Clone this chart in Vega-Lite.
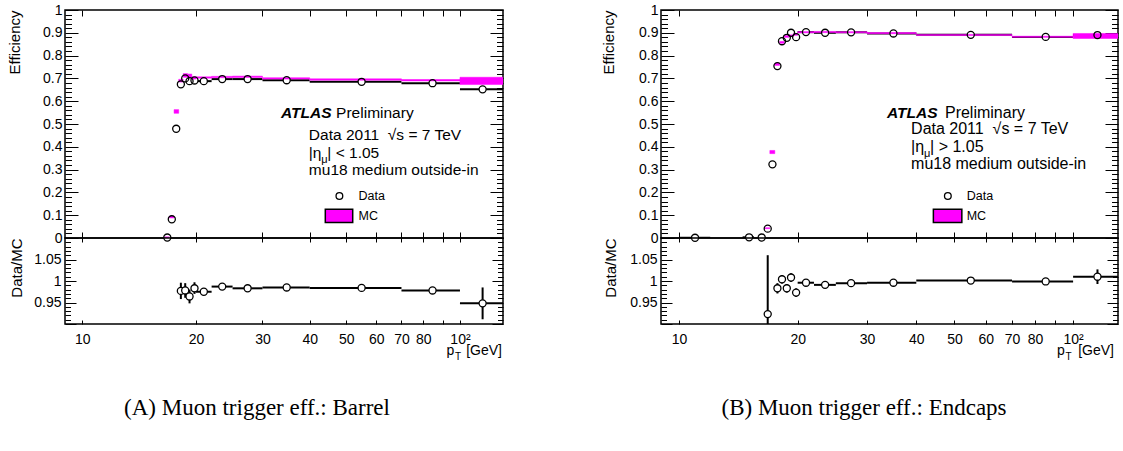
{
"$schema": "https://vega.github.io/schema/vega-lite/v6.json",
"background": "white",
"padding": {"left": 6, "top": 2, "right": 5, "bottom": 5},
"config": {
  "view": {"stroke": "black", "strokeWidth": 1.5},
  "axis": {"domain": false, "grid": false, "tickColor": "black", "tickWidth": 1, "labelColor": "black", "titleColor": "black", "labelFont": "Liberation Sans", "titleFont": "Liberation Sans", "labelFontSize": 14, "titleFontSize": 15, "titleFontWeight": "normal", "labelOverlap": false, "labelFlush": false, "labelBound": false},
  "text": {"font": "Liberation Sans", "color": "black"},
  "title": {"font": "Liberation Serif", "fontSize": 23, "fontWeight": "normal", "color": "black"}
},
"datasets": {
  "effL": [
    {"pt": 16.79, "lo": 16.5, "hi": 17, "eff": 0.002, "effLo": 0.0, "effHi": 0.004, "mcLo": 0.001, "mcHi": 0.005},
    {"pt": 17.26, "lo": 17, "hi": 17.5, "eff": 0.082, "effLo": 0.076, "effHi": 0.088, "mcLo": 0.088, "mcHi": 0.096},
    {"pt": 17.73, "lo": 17.5, "hi": 18, "eff": 0.479, "effLo": 0.469, "effHi": 0.489, "mcLo": 0.547, "mcHi": 0.563},
    {"pt": 18.24, "lo": 18, "hi": 18.5, "eff": 0.674, "effLo": 0.665, "effHi": 0.683, "mcLo": 0.684, "mcHi": 0.696},
    {"pt": 18.73, "lo": 18.5, "hi": 19, "eff": 0.700, "effLo": 0.691, "effHi": 0.709, "mcLo": 0.705, "mcHi": 0.721},
    {"pt": 19.23, "lo": 19, "hi": 19.5, "eff": 0.688, "effLo": 0.679, "effHi": 0.697, "mcLo": 0.703, "mcHi": 0.719},
    {"pt": 19.82, "lo": 19.5, "hi": 20, "eff": 0.691, "effLo": 0.683, "effHi": 0.699, "mcLo": 0.697, "mcHi": 0.707},
    {"pt": 20.98, "lo": 20, "hi": 22, "eff": 0.688, "effLo": 0.684, "effHi": 0.692, "mcLo": 0.701, "mcHi": 0.707},
    {"pt": 23.47, "lo": 22, "hi": 25, "eff": 0.697, "effLo": 0.694, "effHi": 0.700, "mcLo": 0.703, "mcHi": 0.709},
    {"pt": 27.4, "lo": 25, "hi": 30, "eff": 0.697, "effLo": 0.695, "effHi": 0.699, "mcLo": 0.704, "mcHi": 0.710},
    {"pt": 34.77, "lo": 30, "hi": 40, "eff": 0.692, "effLo": 0.690, "effHi": 0.694, "mcLo": 0.697, "mcHi": 0.703},
    {"pt": 54.9, "lo": 40, "hi": 70, "eff": 0.685, "effLo": 0.683, "effHi": 0.687, "mcLo": 0.692, "mcHi": 0.698},
    {"pt": 84.6, "lo": 70, "hi": 100, "eff": 0.679, "effLo": 0.676, "effHi": 0.682, "mcLo": 0.689, "mcHi": 0.695},
    {"pt": 114.8, "lo": 100, "hi": 150, "eff": 0.652, "effLo": 0.640, "effHi": 0.664, "mcLo": 0.673, "mcHi": 0.705}
  ],
  "ratioL": [
    {"pt": 18.24, "lo": 18, "hi": 18.5, "r": 0.977, "rLo": 0.958, "rHi": 0.996},
    {"pt": 18.73, "lo": 18.5, "hi": 19, "r": 0.978, "rLo": 0.961, "rHi": 0.995},
    {"pt": 19.23, "lo": 19, "hi": 19.5, "r": 0.964, "rLo": 0.948, "rHi": 0.980},
    {"pt": 19.82, "lo": 19.5, "hi": 20, "r": 0.983, "rLo": 0.970, "rHi": 0.997},
    {"pt": 20.98, "lo": 20, "hi": 22, "r": 0.975, "rLo": 0.970, "rHi": 0.980},
    {"pt": 23.47, "lo": 22, "hi": 25, "r": 0.987, "rLo": 0.983, "rHi": 0.991},
    {"pt": 27.4, "lo": 25, "hi": 30, "r": 0.983, "rLo": 0.980, "rHi": 0.986},
    {"pt": 34.77, "lo": 30, "hi": 40, "r": 0.985, "rLo": 0.982, "rHi": 0.988},
    {"pt": 54.9, "lo": 40, "hi": 70, "r": 0.984, "rLo": 0.981, "rHi": 0.987},
    {"pt": 84.6, "lo": 70, "hi": 100, "r": 0.978, "rLo": 0.974, "rHi": 0.982},
    {"pt": 114.8, "lo": 100, "hi": 150, "r": 0.948, "rLo": 0.911, "rHi": 0.985}
  ],
  "effR": [
    {"pt": 10.98, "lo": 10, "hi": 12, "eff": 0.001, "effLo": 0.0, "effHi": 0.002, "mcLo": null, "mcHi": null},
    {"pt": 15.06, "lo": 14.5, "hi": 15.5, "eff": 0.003, "effLo": 0.0, "effHi": 0.006, "mcLo": null, "mcHi": null},
    {"pt": 16.21, "lo": 16, "hi": 16.5, "eff": 0.002, "effLo": 0.0, "effHi": 0.004, "mcLo": null, "mcHi": null},
    {"pt": 16.79, "lo": 16.5, "hi": 17, "eff": 0.041, "effLo": 0.036, "effHi": 0.046, "mcLo": 0.041, "mcHi": 0.045},
    {"pt": 17.26, "lo": 17, "hi": 17.5, "eff": 0.323, "effLo": 0.313, "effHi": 0.333, "mcLo": 0.370, "mcHi": 0.384},
    {"pt": 17.77, "lo": 17.5, "hi": 18, "eff": 0.754, "effLo": 0.745, "effHi": 0.763, "mcLo": 0.757, "mcHi": 0.767},
    {"pt": 18.25, "lo": 18, "hi": 18.5, "eff": 0.863, "effLo": 0.856, "effHi": 0.870, "mcLo": 0.854, "mcHi": 0.862},
    {"pt": 18.77, "lo": 18.5, "hi": 19, "eff": 0.878, "effLo": 0.871, "effHi": 0.885, "mcLo": 0.880, "mcHi": 0.888},
    {"pt": 19.24, "lo": 19, "hi": 19.5, "eff": 0.900, "effLo": 0.893, "effHi": 0.907, "mcLo": 0.883, "mcHi": 0.891},
    {"pt": 19.82, "lo": 19.5, "hi": 20, "eff": 0.881, "effLo": 0.874, "effHi": 0.888, "mcLo": 0.889, "mcHi": 0.897},
    {"pt": 21.0, "lo": 20, "hi": 22, "eff": 0.903, "effLo": 0.900, "effHi": 0.906, "mcLo": 0.900, "mcHi": 0.905},
    {"pt": 23.48, "lo": 22, "hi": 25, "eff": 0.900, "effLo": 0.898, "effHi": 0.902, "mcLo": 0.901, "mcHi": 0.906},
    {"pt": 27.33, "lo": 25, "hi": 30, "eff": 0.902, "effLo": 0.900, "effHi": 0.904, "mcLo": 0.900, "mcHi": 0.905},
    {"pt": 35.0, "lo": 30, "hi": 40, "eff": 0.897, "effLo": 0.895, "effHi": 0.899, "mcLo": 0.896, "mcHi": 0.901},
    {"pt": 55.0, "lo": 40, "hi": 70, "eff": 0.891, "effLo": 0.889, "effHi": 0.893, "mcLo": 0.888, "mcHi": 0.893},
    {"pt": 85.2, "lo": 70, "hi": 100, "eff": 0.882, "effLo": 0.879, "effHi": 0.885, "mcLo": 0.880, "mcHi": 0.885},
    {"pt": 115.3, "lo": 100, "hi": 150, "eff": 0.890, "effLo": 0.882, "effHi": 0.898, "mcLo": 0.875, "mcHi": 0.897}
  ],
  "ratioR": [
    {"pt": 16.79, "lo": 16.5, "hi": 17, "r": 0.923, "rLo": 0.786, "rHi": 1.060},
    {"pt": 17.77, "lo": 17.5, "hi": 18, "r": 0.983, "rLo": 0.971, "rHi": 0.995},
    {"pt": 18.25, "lo": 18, "hi": 18.5, "r": 1.004, "rLo": 0.994, "rHi": 1.014},
    {"pt": 18.77, "lo": 18.5, "hi": 19, "r": 0.983, "rLo": 0.973, "rHi": 0.993},
    {"pt": 19.24, "lo": 19, "hi": 19.5, "r": 1.008, "rLo": 0.998, "rHi": 1.018},
    {"pt": 19.82, "lo": 19.5, "hi": 20, "r": 0.973, "rLo": 0.963, "rHi": 0.983},
    {"pt": 21.0, "lo": 20, "hi": 22, "r": 0.996, "rLo": 0.992, "rHi": 1.000},
    {"pt": 23.48, "lo": 22, "hi": 25, "r": 0.991, "rLo": 0.988, "rHi": 0.994},
    {"pt": 27.33, "lo": 25, "hi": 30, "r": 0.995, "rLo": 0.992, "rHi": 0.998},
    {"pt": 35.0, "lo": 30, "hi": 40, "r": 0.996, "rLo": 0.993, "rHi": 0.999},
    {"pt": 55.0, "lo": 40, "hi": 70, "r": 1.001, "rLo": 0.999, "rHi": 1.003},
    {"pt": 85.2, "lo": 70, "hi": 100, "r": 0.999, "rLo": 0.996, "rHi": 1.002},
    {"pt": 115.3, "lo": 100, "hi": 150, "r": 1.010, "rLo": 0.993, "rHi": 1.027}
  ],
  "notesL": [
    {"role": "atlas", "pt": 33.6, "eff": 0.528, "text": "ATLAS"},
    {"role": "main", "pt": 47.0, "eff": 0.528, "text": "Preliminary"},
    {"role": "main", "pt": 39.8, "eff": 0.430, "text": "Data 2011 \u00a0√s = 7 TeV"},
    {"role": "main", "pt": 39.8, "eff": 0.353, "text": "|η"},
    {"role": "sub", "pt": 39.8, "eff": 0.353, "text": "μ"},
    {"role": "post", "pt": 39.8, "eff": 0.353, "text": "| < 1.05"},
    {"role": "main", "pt": 39.8, "eff": 0.276, "text": "mu18 medium outside-in"},
    {"role": "legendText", "pt": 53.9, "eff": 0.184, "text": "Data"},
    {"role": "legendText", "pt": 53.9, "eff": 0.097, "text": "MC"},
    {"role": "legendCircle", "pt": 47.95, "eff": 0.184},
    {"role": "legendBox", "pt": 44.0, "pt2": 52.0, "eff": 0.0675, "eff2": 0.126}
  ],
  "notesR": [
    {"role": "atlas", "pt": 33.7, "eff": 0.528, "text": "ATLAS"},
    {"role": "main", "pt": 47.3, "eff": 0.528, "text": "Preliminary"},
    {"role": "main", "pt": 38.8, "eff": 0.456, "text": "Data 2011 \u00a0√s = 7 TeV"},
    {"role": "main", "pt": 38.8, "eff": 0.379, "text": "|η"},
    {"role": "sub", "pt": 38.8, "eff": 0.379, "text": "μ"},
    {"role": "post", "pt": 38.8, "eff": 0.379, "text": "| > 1.05"},
    {"role": "main", "pt": 38.8, "eff": 0.303, "text": "mu18 medium outside-in"},
    {"role": "legendText", "pt": 53.7, "eff": 0.184, "text": "Data"},
    {"role": "legendText", "pt": 53.7, "eff": 0.097, "text": "MC"},
    {"role": "legendCircle", "pt": 48.1, "eff": 0.184},
    {"role": "legendBox", "pt": 44.2, "pt2": 52.2, "eff": 0.0675, "eff2": 0.126}
  ],
  "ptTitle": [{"pt": 130, "r": 0.9}]
},
"hconcat": [
  {
    "title": {"text": "(A) Muon trigger eff.: Barrel", "orient": "bottom", "anchor": "middle", "offset": 34, "dx": 1.5},
    "spacing": 0, "bounds": "flush",
    "vconcat": [
      {
        "width": 438, "height": 228,
        "resolve": {"axis": {"x": "independent", "y": "independent"}},
        "layer": [
          {"data": {"name": "effL"}, "mark": {"type": "rule", "clip": true, "strokeWidth": 2, "color": "black"},
           "encoding": {
             "x": {"field": "lo", "type": "quantitative", "scale": {"type": "log", "domain": [9, 130], "nice": false}, "axis": {"orient": "bottom", "values": [10,20,30,40,50,60,70,80,90,100], "labels": false, "tickSize": -6, "title": null}},
             "x2": {"field": "hi"},
             "y": {"field": "eff", "type": "quantitative", "scale": {"domain": [0, 1], "nice": false, "zero": false}, "axis": {"orient": "left", "values": [0,0.1,0.2,0.3,0.4,0.5,0.6,0.7,0.8,0.9,1], "tickSize": -13, "labelPadding": 16, "labelExpr": "datum.value == 0 ? '0' : datum.value > 0.99 ? '1' : format(datum.value, '.1f')", "title": "Efficiency", "titleAnchor": "end", "titlePadding": 20}}
           }},
          {"data": {"name": "effL"}, "mark": {"type": "rule", "strokeWidth": 2, "color": "black"},
           "encoding": {
             "x": {"field": "pt", "type": "quantitative", "scale": {"type": "log", "domain": [9, 130], "nice": false}, "axis": {"orient": "top", "values": [10,20,30,40,50,60,70,80,90,100], "labels": false, "tickSize": -6, "title": null}},
             "y": {"field": "effLo", "type": "quantitative", "scale": {"domain": [0, 1], "nice": false, "zero": false}, "axis": {"orient": "left", "values": [0.02,0.04,0.06,0.08,0.12,0.14,0.16,0.18,0.22,0.24,0.26,0.28,0.32,0.34,0.36,0.38,0.42,0.44,0.46,0.48,0.52,0.54,0.56,0.58,0.62,0.64,0.66,0.68,0.72,0.74,0.76,0.78,0.82,0.84,0.86,0.88,0.92,0.94,0.96,0.98], "tickSize": -6.5, "labels": false, "title": null}},
             "y2": {"field": "effHi"}
           }},
          {"data": {"name": "effL"}, "mark": {"type": "point", "shape": "circle", "filled": true, "color": "white", "opacity": 1, "size": 50},
           "encoding": {
             "x": {"field": "pt", "type": "quantitative", "scale": {"type": "log", "domain": [9, 130], "nice": false}, "axis": null},
             "y": {"field": "eff", "type": "quantitative", "scale": {"domain": [0, 1], "nice": false, "zero": false}, "axis": {"orient": "right", "values": [0,0.1,0.2,0.3,0.4,0.5,0.6,0.7,0.8,0.9,1], "tickSize": -13, "labels": false, "title": null}}
           }},
          {"data": {"name": "effL"}, "mark": {"type": "rect", "clip": true, "color": "#ff00ff", "stroke": "#ff00ff", "strokeWidth": 0.5},
           "encoding": {
             "x": {"field": "lo", "type": "quantitative", "scale": {"type": "log", "domain": [9, 130], "nice": false}, "axis": null},
             "x2": {"field": "hi"},
             "y": {"field": "mcLo", "type": "quantitative", "scale": {"domain": [0, 1], "nice": false, "zero": false}, "axis": {"orient": "right", "values": [0.02,0.04,0.06,0.08,0.12,0.14,0.16,0.18,0.22,0.24,0.26,0.28,0.32,0.34,0.36,0.38,0.42,0.44,0.46,0.48,0.52,0.54,0.56,0.58,0.62,0.64,0.66,0.68,0.72,0.74,0.76,0.78,0.82,0.84,0.86,0.88,0.92,0.94,0.96,0.98], "tickSize": -6.5, "labels": false, "title": null}},
             "y2": {"field": "mcHi"}
           }},
          {"data": {"name": "effL"}, "mark": {"type": "point", "shape": "circle", "filled": false, "stroke": "black", "strokeWidth": 1.3, "opacity": 1, "size": 50},
           "encoding": {
             "x": {"field": "pt", "type": "quantitative", "scale": {"type": "log", "domain": [9, 130], "nice": false}, "axis": null},
             "y": {"field": "eff", "type": "quantitative", "scale": {"domain": [0, 1], "nice": false, "zero": false}, "axis": null}
           }},
          {"data": {"name": "notesL"}, "transform": [{"filter": "datum.role == 'atlas'"}], "mark": {"type": "text", "align": "left", "baseline": "alphabetic", "fontSize": 15.5, "fontWeight": "bold", "fontStyle": "italic"},
           "encoding": {
             "x": {"field": "pt", "type": "quantitative", "scale": {"type": "log", "domain": [9, 130], "nice": false}, "axis": null},
             "y": {"field": "eff", "type": "quantitative", "scale": {"domain": [0, 1], "nice": false, "zero": false}, "axis": null},
             "text": {"field": "text"}
           }},
          {"data": {"name": "notesL"}, "transform": [{"filter": "datum.role == 'main'"}], "mark": {"type": "text", "align": "left", "baseline": "alphabetic", "fontSize": 15.5},
           "encoding": {
             "x": {"field": "pt", "type": "quantitative", "scale": {"type": "log", "domain": [9, 130], "nice": false}, "axis": null},
             "y": {"field": "eff", "type": "quantitative", "scale": {"domain": [0, 1], "nice": false, "zero": false}, "axis": null},
             "text": {"field": "text"}
           }},
          {"data": {"name": "notesL"}, "transform": [{"filter": "datum.role == 'sub'"}], "mark": {"type": "text", "align": "left", "baseline": "alphabetic", "fontSize": 11, "dx": 12.5, "dy": 5},
           "encoding": {
             "x": {"field": "pt", "type": "quantitative", "scale": {"type": "log", "domain": [9, 130], "nice": false}, "axis": null},
             "y": {"field": "eff", "type": "quantitative", "scale": {"domain": [0, 1], "nice": false, "zero": false}, "axis": null},
             "text": {"field": "text"}
           }},
          {"data": {"name": "notesL"}, "transform": [{"filter": "datum.role == 'post'"}], "mark": {"type": "text", "align": "left", "baseline": "alphabetic", "fontSize": 15.5, "dx": 18.5},
           "encoding": {
             "x": {"field": "pt", "type": "quantitative", "scale": {"type": "log", "domain": [9, 130], "nice": false}, "axis": null},
             "y": {"field": "eff", "type": "quantitative", "scale": {"domain": [0, 1], "nice": false, "zero": false}, "axis": null},
             "text": {"field": "text"}
           }},
          {"data": {"name": "notesL"}, "transform": [{"filter": "datum.role == 'legendText'"}], "mark": {"type": "text", "align": "left", "baseline": "middle", "fontSize": 12.5},
           "encoding": {
             "x": {"field": "pt", "type": "quantitative", "scale": {"type": "log", "domain": [9, 130], "nice": false}, "axis": null},
             "y": {"field": "eff", "type": "quantitative", "scale": {"domain": [0, 1], "nice": false, "zero": false}, "axis": null},
             "text": {"field": "text"}
           }},
          {"data": {"name": "notesL"}, "transform": [{"filter": "datum.role == 'legendCircle'"}], "mark": {"type": "point", "shape": "circle", "filled": false, "stroke": "black", "strokeWidth": 1.3, "opacity": 1, "size": 45},
           "encoding": {
             "x": {"field": "pt", "type": "quantitative", "scale": {"type": "log", "domain": [9, 130], "nice": false}, "axis": null},
             "y": {"field": "eff", "type": "quantitative", "scale": {"domain": [0, 1], "nice": false, "zero": false}, "axis": null}
           }},
          {"data": {"name": "notesL"}, "transform": [{"filter": "datum.role == 'legendBox'"}], "mark": {"type": "rect", "color": "#ff00ff", "stroke": "black", "strokeWidth": 1.5},
           "encoding": {
             "x": {"field": "pt", "type": "quantitative", "scale": {"type": "log", "domain": [9, 130], "nice": false}, "axis": null},
             "x2": {"field": "pt2"},
             "y": {"field": "eff", "type": "quantitative", "scale": {"domain": [0, 1], "nice": false, "zero": false}, "axis": null},
             "y2": {"field": "eff2"}
           }}
        ]
      },
      {
        "width": 438, "height": 86,
        "resolve": {"axis": {"x": "independent", "y": "independent"}},
        "layer": [
          {"mark": {"type": "rule", "strokeDash": [1, 2], "strokeWidth": 1, "color": "black"},
           "encoding": {"y": {"datum": 1, "type": "quantitative", "scale": {"domain": [0.9, 1.1], "nice": false, "zero": false}, "axis": null}}},
          {"data": {"name": "ratioL"}, "mark": {"type": "rule", "clip": true, "strokeWidth": 2, "color": "black"},
           "encoding": {
             "x": {"field": "lo", "type": "quantitative", "scale": {"type": "log", "domain": [9, 130], "nice": false}, "axis": {"orient": "bottom", "values": [10,20,30,40,50,60,70,80,90,100], "tickSize": -4, "labelPadding": 12, "labelExpr": "datum.value == 100 ? '10²' : datum.value == 90 ? '' : format(datum.value, 'd')", "title": null}},
             "x2": {"field": "hi"},
             "y": {"field": "r", "type": "quantitative", "scale": {"domain": [0.9, 1.1], "nice": false, "zero": false}, "axis": {"orient": "left", "values": [0.9, 0.95, 1, 1.05, 1.1], "tickSize": -11, "labelPadding": 15, "labelExpr": "abs(datum.value - 0.95) < 0.001 ? '0.95' : abs(datum.value - 1) < 0.001 ? '1' : abs(datum.value - 1.05) < 0.001 ? '1.05' : ''", "title": "Data/MC", "titleAnchor": "end", "titlePadding": 9}}
           }},
          {"data": {"name": "ratioL"}, "mark": {"type": "rule", "clip": true, "strokeWidth": 2, "color": "black"},
           "encoding": {
             "x": {"field": "pt", "type": "quantitative", "scale": {"type": "log", "domain": [9, 130], "nice": false}, "axis": {"orient": "top", "values": [10,20,30,40,50,60,70,80,90,100], "labels": false, "tickSize": -4, "title": null}},
             "y": {"field": "rLo", "type": "quantitative", "scale": {"domain": [0.9, 1.1], "nice": false, "zero": false}, "axis": {"orient": "left", "values": [0.91,0.92,0.93,0.94,0.96,0.97,0.98,0.99,1.01,1.02,1.03,1.04,1.06,1.07,1.08,1.09], "tickSize": -5.5, "labels": false, "title": null}},
             "y2": {"field": "rHi"}
           }},
          {"data": {"name": "ratioL"}, "mark": {"type": "point", "shape": "circle", "filled": true, "fill": "white", "stroke": "black", "strokeWidth": 1.3, "opacity": 1, "size": 50},
           "encoding": {
             "x": {"field": "pt", "type": "quantitative", "scale": {"type": "log", "domain": [9, 130], "nice": false}, "axis": null},
             "y": {"field": "r", "type": "quantitative", "scale": {"domain": [0.9, 1.1], "nice": false, "zero": false}, "axis": {"orient": "right", "values": [0.9, 0.95, 1, 1.05, 1.1], "tickSize": -11, "labels": false, "title": null}}
           }},
          {"data": {"name": "ptTitle"}, "mark": {"type": "text", "align": "right", "baseline": "alphabetic", "fontSize": 14, "dx": -1, "dy": 31},
           "encoding": {
             "x": {"field": "pt", "type": "quantitative", "scale": {"type": "log", "domain": [9, 130], "nice": false}, "axis": null},
             "y": {"field": "r", "type": "quantitative", "scale": {"domain": [0.9, 1.1], "nice": false, "zero": false}, "axis": {"orient": "right", "values": [0.91,0.92,0.93,0.94,0.96,0.97,0.98,0.99,1.01,1.02,1.03,1.04,1.06,1.07,1.08,1.09], "tickSize": -5.5, "labels": false, "title": null}},
             "text": {"value": "[GeV]"}
           }},
          {"data": {"name": "ptTitle"}, "mark": {"type": "text", "align": "center", "baseline": "alphabetic", "fontSize": 14, "dx": -52.5, "dy": 31},
           "encoding": {
             "x": {"field": "pt", "type": "quantitative", "scale": {"type": "log", "domain": [9, 130], "nice": false}, "axis": null},
             "y": {"field": "r", "type": "quantitative", "scale": {"domain": [0.9, 1.1], "nice": false, "zero": false}, "axis": null},
             "text": {"value": "p"}
           }},
          {"data": {"name": "ptTitle"}, "mark": {"type": "text", "align": "center", "baseline": "alphabetic", "fontSize": 10, "dx": -45, "dy": 36},
           "encoding": {
             "x": {"field": "pt", "type": "quantitative", "scale": {"type": "log", "domain": [9, 130], "nice": false}, "axis": null},
             "y": {"field": "r", "type": "quantitative", "scale": {"domain": [0.9, 1.1], "nice": false, "zero": false}, "axis": null},
             "text": {"value": "T"}
           }}
        ]
      }
    ]
  },
  {
    "title": {"text": "(B) Muon trigger eff.: Endcaps", "orient": "bottom", "anchor": "middle", "offset": 34, "dx": 4},
    "spacing": 0, "bounds": "flush",
    "vconcat": [
      {
        "width": 457, "height": 228,
        "resolve": {"axis": {"x": "independent", "y": "independent"}},
        "layer": [
          {"data": {"name": "effR"}, "mark": {"type": "rule", "clip": true, "strokeWidth": 2, "color": "black"},
           "encoding": {
             "x": {"field": "lo", "type": "quantitative", "scale": {"type": "log", "domain": [9, 130], "nice": false}, "axis": {"orient": "bottom", "values": [10,20,30,40,50,60,70,80,90,100], "labels": false, "tickSize": -6, "title": null}},
             "x2": {"field": "hi"},
             "y": {"field": "eff", "type": "quantitative", "scale": {"domain": [0, 1], "nice": false, "zero": false}, "axis": {"orient": "left", "values": [0,0.1,0.2,0.3,0.4,0.5,0.6,0.7,0.8,0.9,1], "tickSize": -13, "labelPadding": 16, "labelExpr": "datum.value == 0 ? '0' : datum.value > 0.99 ? '1' : format(datum.value, '.1f')", "title": "Efficiency", "titleAnchor": "end", "titlePadding": 22}}
           }},
          {"data": {"name": "effR"}, "mark": {"type": "rule", "strokeWidth": 2, "color": "black"},
           "encoding": {
             "x": {"field": "pt", "type": "quantitative", "scale": {"type": "log", "domain": [9, 130], "nice": false}, "axis": {"orient": "top", "values": [10,20,30,40,50,60,70,80,90,100], "labels": false, "tickSize": -6, "title": null}},
             "y": {"field": "effLo", "type": "quantitative", "scale": {"domain": [0, 1], "nice": false, "zero": false}, "axis": {"orient": "left", "values": [0.02,0.04,0.06,0.08,0.12,0.14,0.16,0.18,0.22,0.24,0.26,0.28,0.32,0.34,0.36,0.38,0.42,0.44,0.46,0.48,0.52,0.54,0.56,0.58,0.62,0.64,0.66,0.68,0.72,0.74,0.76,0.78,0.82,0.84,0.86,0.88,0.92,0.94,0.96,0.98], "tickSize": -6.5, "labels": false, "title": null}},
             "y2": {"field": "effHi"}
           }},
          {"data": {"name": "effR"}, "mark": {"type": "point", "shape": "circle", "filled": true, "color": "white", "opacity": 1, "size": 50},
           "encoding": {
             "x": {"field": "pt", "type": "quantitative", "scale": {"type": "log", "domain": [9, 130], "nice": false}, "axis": null},
             "y": {"field": "eff", "type": "quantitative", "scale": {"domain": [0, 1], "nice": false, "zero": false}, "axis": {"orient": "right", "values": [0,0.1,0.2,0.3,0.4,0.5,0.6,0.7,0.8,0.9,1], "tickSize": -13, "labels": false, "title": null}}
           }},
          {"data": {"name": "effR"}, "mark": {"type": "rect", "clip": true, "color": "#ff00ff", "stroke": "#ff00ff", "strokeWidth": 0.5},
           "encoding": {
             "x": {"field": "lo", "type": "quantitative", "scale": {"type": "log", "domain": [9, 130], "nice": false}, "axis": null},
             "x2": {"field": "hi"},
             "y": {"field": "mcLo", "type": "quantitative", "scale": {"domain": [0, 1], "nice": false, "zero": false}, "axis": {"orient": "right", "values": [0.02,0.04,0.06,0.08,0.12,0.14,0.16,0.18,0.22,0.24,0.26,0.28,0.32,0.34,0.36,0.38,0.42,0.44,0.46,0.48,0.52,0.54,0.56,0.58,0.62,0.64,0.66,0.68,0.72,0.74,0.76,0.78,0.82,0.84,0.86,0.88,0.92,0.94,0.96,0.98], "tickSize": -6.5, "labels": false, "title": null}},
             "y2": {"field": "mcHi"}
           }},
          {"data": {"name": "effR"}, "mark": {"type": "point", "shape": "circle", "filled": false, "stroke": "black", "strokeWidth": 1.3, "opacity": 1, "size": 50},
           "encoding": {
             "x": {"field": "pt", "type": "quantitative", "scale": {"type": "log", "domain": [9, 130], "nice": false}, "axis": null},
             "y": {"field": "eff", "type": "quantitative", "scale": {"domain": [0, 1], "nice": false, "zero": false}, "axis": null}
           }},
          {"data": {"name": "notesR"}, "transform": [{"filter": "datum.role == 'atlas'"}], "mark": {"type": "text", "align": "left", "baseline": "alphabetic", "fontSize": 15.5, "fontWeight": "bold", "fontStyle": "italic"},
           "encoding": {
             "x": {"field": "pt", "type": "quantitative", "scale": {"type": "log", "domain": [9, 130], "nice": false}, "axis": null},
             "y": {"field": "eff", "type": "quantitative", "scale": {"domain": [0, 1], "nice": false, "zero": false}, "axis": null},
             "text": {"field": "text"}
           }},
          {"data": {"name": "notesR"}, "transform": [{"filter": "datum.role == 'main'"}], "mark": {"type": "text", "align": "left", "baseline": "alphabetic", "fontSize": 16},
           "encoding": {
             "x": {"field": "pt", "type": "quantitative", "scale": {"type": "log", "domain": [9, 130], "nice": false}, "axis": null},
             "y": {"field": "eff", "type": "quantitative", "scale": {"domain": [0, 1], "nice": false, "zero": false}, "axis": null},
             "text": {"field": "text"}
           }},
          {"data": {"name": "notesR"}, "transform": [{"filter": "datum.role == 'sub'"}], "mark": {"type": "text", "align": "left", "baseline": "alphabetic", "fontSize": 11, "dx": 13, "dy": 5},
           "encoding": {
             "x": {"field": "pt", "type": "quantitative", "scale": {"type": "log", "domain": [9, 130], "nice": false}, "axis": null},
             "y": {"field": "eff", "type": "quantitative", "scale": {"domain": [0, 1], "nice": false, "zero": false}, "axis": null},
             "text": {"field": "text"}
           }},
          {"data": {"name": "notesR"}, "transform": [{"filter": "datum.role == 'post'"}], "mark": {"type": "text", "align": "left", "baseline": "alphabetic", "fontSize": 16, "dx": 19},
           "encoding": {
             "x": {"field": "pt", "type": "quantitative", "scale": {"type": "log", "domain": [9, 130], "nice": false}, "axis": null},
             "y": {"field": "eff", "type": "quantitative", "scale": {"domain": [0, 1], "nice": false, "zero": false}, "axis": null},
             "text": {"field": "text"}
           }},
          {"data": {"name": "notesR"}, "transform": [{"filter": "datum.role == 'legendText'"}], "mark": {"type": "text", "align": "left", "baseline": "middle", "fontSize": 12.5},
           "encoding": {
             "x": {"field": "pt", "type": "quantitative", "scale": {"type": "log", "domain": [9, 130], "nice": false}, "axis": null},
             "y": {"field": "eff", "type": "quantitative", "scale": {"domain": [0, 1], "nice": false, "zero": false}, "axis": null},
             "text": {"field": "text"}
           }},
          {"data": {"name": "notesR"}, "transform": [{"filter": "datum.role == 'legendCircle'"}], "mark": {"type": "point", "shape": "circle", "filled": false, "stroke": "black", "strokeWidth": 1.3, "opacity": 1, "size": 45},
           "encoding": {
             "x": {"field": "pt", "type": "quantitative", "scale": {"type": "log", "domain": [9, 130], "nice": false}, "axis": null},
             "y": {"field": "eff", "type": "quantitative", "scale": {"domain": [0, 1], "nice": false, "zero": false}, "axis": null}
           }},
          {"data": {"name": "notesR"}, "transform": [{"filter": "datum.role == 'legendBox'"}], "mark": {"type": "rect", "color": "#ff00ff", "stroke": "black", "strokeWidth": 1.5},
           "encoding": {
             "x": {"field": "pt", "type": "quantitative", "scale": {"type": "log", "domain": [9, 130], "nice": false}, "axis": null},
             "x2": {"field": "pt2"},
             "y": {"field": "eff", "type": "quantitative", "scale": {"domain": [0, 1], "nice": false, "zero": false}, "axis": null},
             "y2": {"field": "eff2"}
           }}
        ]
      },
      {
        "width": 457, "height": 86,
        "resolve": {"axis": {"x": "independent", "y": "independent"}},
        "layer": [
          {"mark": {"type": "rule", "strokeDash": [1, 2], "strokeWidth": 1, "color": "black"},
           "encoding": {"y": {"datum": 1, "type": "quantitative", "scale": {"domain": [0.9, 1.1], "nice": false, "zero": false}, "axis": null}}},
          {"data": {"name": "ratioR"}, "mark": {"type": "rule", "clip": true, "strokeWidth": 2, "color": "black"},
           "encoding": {
             "x": {"field": "lo", "type": "quantitative", "scale": {"type": "log", "domain": [9, 130], "nice": false}, "axis": {"orient": "bottom", "values": [10,20,30,40,50,60,70,80,90,100], "tickSize": -4, "labelPadding": 12, "labelExpr": "datum.value == 100 ? '10²' : datum.value == 90 ? '' : format(datum.value, 'd')", "title": null}},
             "x2": {"field": "hi"},
             "y": {"field": "r", "type": "quantitative", "scale": {"domain": [0.9, 1.1], "nice": false, "zero": false}, "axis": {"orient": "left", "values": [0.9, 0.95, 1, 1.05, 1.1], "tickSize": -11, "labelPadding": 15, "labelExpr": "abs(datum.value - 0.95) < 0.001 ? '0.95' : abs(datum.value - 1) < 0.001 ? '1' : abs(datum.value - 1.05) < 0.001 ? '1.05' : ''", "title": "Data/MC", "titleAnchor": "end", "titlePadding": 11}}
           }},
          {"data": {"name": "ratioR"}, "mark": {"type": "rule", "clip": true, "strokeWidth": 2, "color": "black"},
           "encoding": {
             "x": {"field": "pt", "type": "quantitative", "scale": {"type": "log", "domain": [9, 130], "nice": false}, "axis": {"orient": "top", "values": [10,20,30,40,50,60,70,80,90,100], "labels": false, "tickSize": -4, "title": null}},
             "y": {"field": "rLo", "type": "quantitative", "scale": {"domain": [0.9, 1.1], "nice": false, "zero": false}, "axis": {"orient": "left", "values": [0.91,0.92,0.93,0.94,0.96,0.97,0.98,0.99,1.01,1.02,1.03,1.04,1.06,1.07,1.08,1.09], "tickSize": -5.5, "labels": false, "title": null}},
             "y2": {"field": "rHi"}
           }},
          {"data": {"name": "ratioR"}, "mark": {"type": "point", "shape": "circle", "filled": true, "fill": "white", "stroke": "black", "strokeWidth": 1.3, "opacity": 1, "size": 50},
           "encoding": {
             "x": {"field": "pt", "type": "quantitative", "scale": {"type": "log", "domain": [9, 130], "nice": false}, "axis": null},
             "y": {"field": "r", "type": "quantitative", "scale": {"domain": [0.9, 1.1], "nice": false, "zero": false}, "axis": {"orient": "right", "values": [0.9, 0.95, 1, 1.05, 1.1], "tickSize": -11, "labels": false, "title": null}}
           }},
          {"data": {"name": "ptTitle"}, "mark": {"type": "text", "align": "right", "baseline": "alphabetic", "fontSize": 14, "dx": -4, "dy": 31},
           "encoding": {
             "x": {"field": "pt", "type": "quantitative", "scale": {"type": "log", "domain": [9, 130], "nice": false}, "axis": null},
             "y": {"field": "r", "type": "quantitative", "scale": {"domain": [0.9, 1.1], "nice": false, "zero": false}, "axis": {"orient": "right", "values": [0.91,0.92,0.93,0.94,0.96,0.97,0.98,0.99,1.01,1.02,1.03,1.04,1.06,1.07,1.08,1.09], "tickSize": -5.5, "labels": false, "title": null}},
             "text": {"value": "[GeV]"}
           }},
          {"data": {"name": "ptTitle"}, "mark": {"type": "text", "align": "center", "baseline": "alphabetic", "fontSize": 14, "dx": -57, "dy": 31},
           "encoding": {
             "x": {"field": "pt", "type": "quantitative", "scale": {"type": "log", "domain": [9, 130], "nice": false}, "axis": null},
             "y": {"field": "r", "type": "quantitative", "scale": {"domain": [0.9, 1.1], "nice": false, "zero": false}, "axis": null},
             "text": {"value": "p"}
           }},
          {"data": {"name": "ptTitle"}, "mark": {"type": "text", "align": "center", "baseline": "alphabetic", "fontSize": 10, "dx": -49.5, "dy": 36},
           "encoding": {
             "x": {"field": "pt", "type": "quantitative", "scale": {"type": "log", "domain": [9, 130], "nice": false}, "axis": null},
             "y": {"field": "r", "type": "quantitative", "scale": {"domain": [0.9, 1.1], "nice": false, "zero": false}, "axis": null},
             "text": {"value": "T"}
           }}
        ]
      }
    ]
  }
],
"spacing": 95,
"bounds": "full"
}
